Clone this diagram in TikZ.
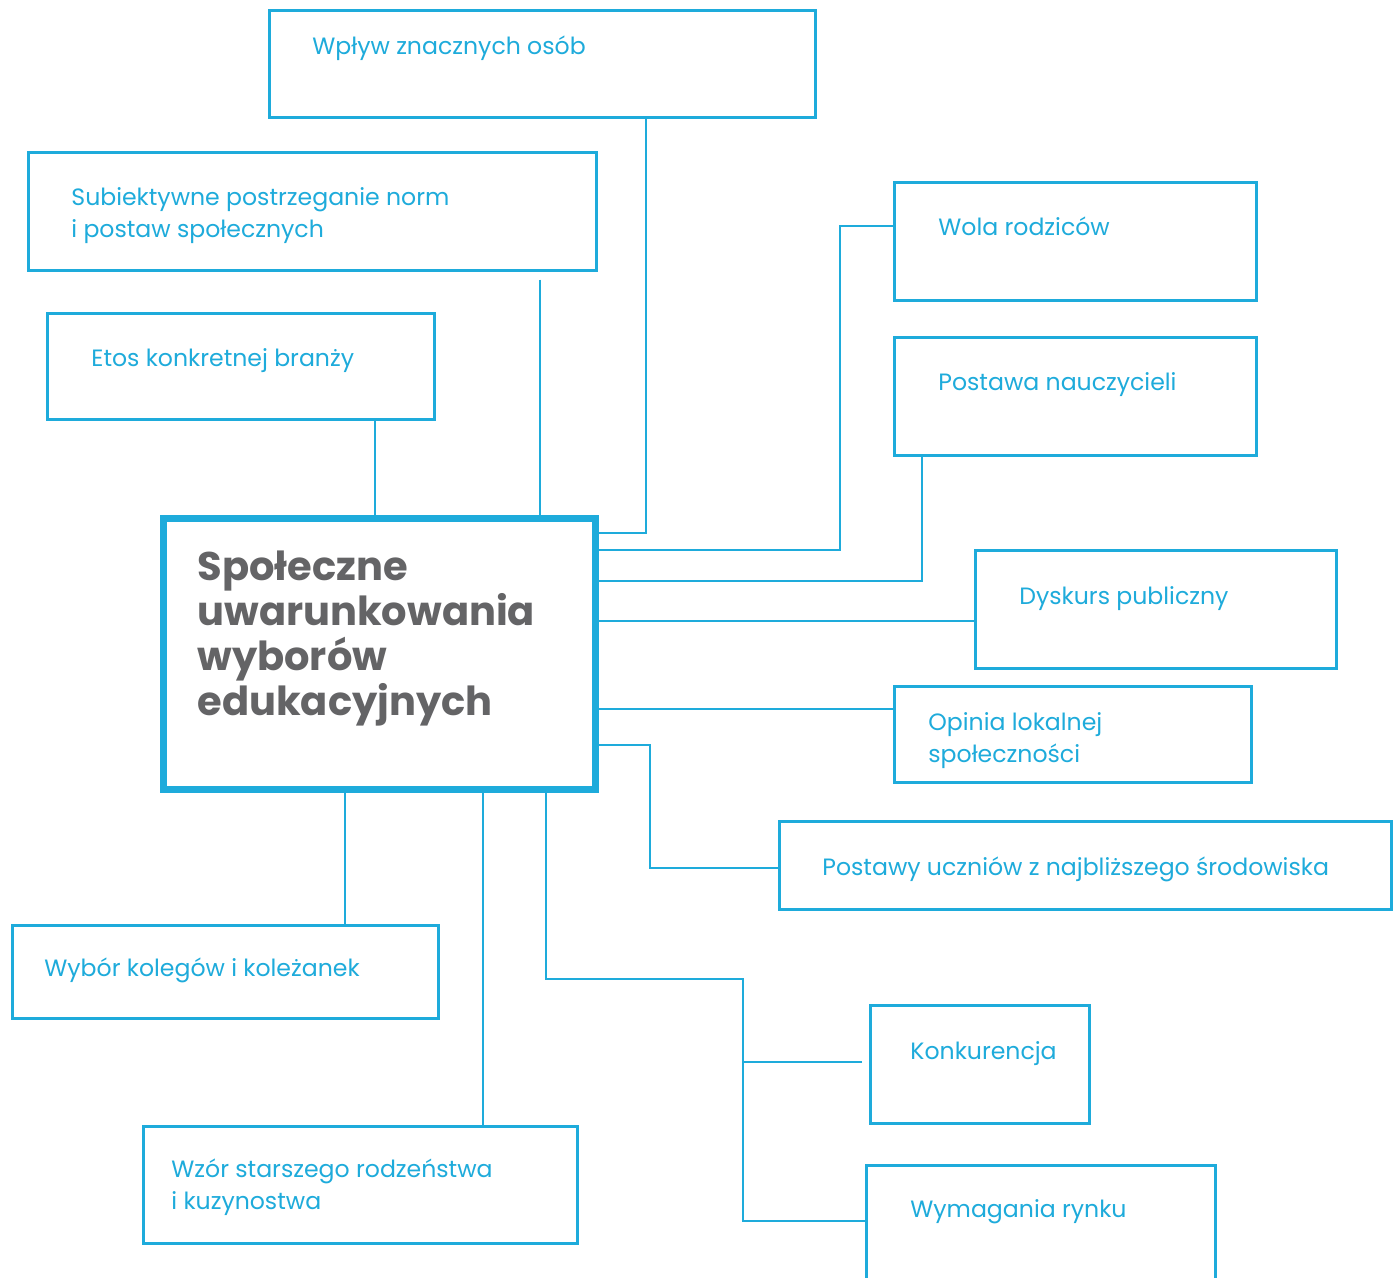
\documentclass[tikz,border=0pt]{standalone}
\usepackage{fontspec}
\setmainfont{Poppins}
\definecolor{lineblue}{RGB}{30,171,219}
\definecolor{titlegrey}{RGB}{100,100,102}
\begin{document}
\begin{tikzpicture}[x=0.5pt, y=-0.5pt,
    box/.style={draw=lineblue, line width=1.35pt, inner sep=0pt, anchor=north west},
    txt/.style={text=lineblue, font=\fontsize{11.8}{16}\selectfont, align=left,
        inner sep=0pt, anchor=base west},
    link/.style={draw=lineblue, line width=1.35pt}]
    % Frame
    \fill [white] (0, 0) rectangle (1398, 1278);
    \useasboundingbox (0, 0) rectangle (1398, 1278);
    % Boxes
    %% Top and left
    \node [box, minimum width=273pt, minimum height=53.5pt] (wplyw) at (268, 9) {};
    \node [box, minimum width=284pt, minimum height=59pt] (subj) at (27, 151) {};
    \node [box, minimum width=193.5pt, minimum height=53pt] (etos) at (46, 312) {};
    %% Right
    \node [box, minimum width=181pt, minimum height=59pt] (wola) at (893, 181) {};
    \node [box, minimum width=181pt, minimum height=59pt] (postawa) at (893, 336) {};
    \node [box, minimum width=180.5pt, minimum height=59pt] (dyskurs) at (974, 549) {};
    \node [box, minimum width=178.5pt, minimum height=48pt] (opinia) at (893, 685) {};
    \node [box, minimum width=306pt, minimum height=44pt] (uczn) at (778, 820) {};
    \node [box, minimum width=109.5pt, minimum height=59pt] (konk) at (869, 1004) {};
    \node [box, minimum width=174.5pt, minimum height=59pt] (rynek) at (865, 1164) {};
    %% Bottom left
    \node [box, minimum width=213pt, minimum height=46.5pt] (wybor) at (11, 924) {};
    \node [box, minimum width=217pt, minimum height=58.5pt] (wzor) at (142, 1125) {};
    % Labels (base is the last line)
    \node [txt] (wplyw-t) at ([xshift=22pt, yshift=-23pt]wplyw.north west) {Wpływ znacznych osób};
    \node [txt] (subj-t) at ([xshift=22pt, yshift=-43.5pt]subj.north west)
        {Subiektywne postrzeganie norm\\i postaw społecznych};
    \node [txt] (etos-t) at ([xshift=22.5pt, yshift=-27.5pt]etos.north west) {Etos konkretnej branży};
    \node [txt] (wola-t) at ([xshift=22.5pt, yshift=-27.5pt]wola.north west) {Wola rodziców};
    \node [txt] (postawa-t) at ([xshift=22.5pt, yshift=-27.5pt]postawa.north west) {Postawa nauczycieli};
    \node [txt] (dyskurs-t) at ([xshift=22.5pt, yshift=-27.5pt]dyskurs.north west) {Dyskurs publiczny};
    \node [txt] (opinia-t) at ([xshift=17.5pt, yshift=-38.5pt]opinia.north west)
        {Opinia lokalnej\\społeczności};
    \node [txt] (uczn-t) at ([xshift=22pt, yshift=-27.5pt]uczn.north west)
        {Postawy uczniów z najbliższego środowiska};
    \node [txt] (konk-t) at ([xshift=20.5pt, yshift=-27.5pt]konk.north west) {Konkurencja};
    \node [txt] (rynek-t) at ([xshift=22.5pt, yshift=-26.5pt]rynek.north west) {Wymagania rynku};
    \node [txt] (wybor-t) at ([xshift=16.5pt, yshift=-26pt]wybor.north west) {Wybór kolegów i koleżanek};
    \node [txt] (wzor-t) at ([xshift=14.5pt, yshift=-42pt]wzor.north west)
        {Wzór starszego rodzeństwa\\i kuzynostwa};
    % Connectors
    %% Above
    \draw [link] ([xshift=189pt]wplyw.south west) |- (592, 533);
    \draw [link] ([xshift=256.5pt, yshift=-4pt]subj.south west) -- (540, 515);
    \draw [link] ([xshift=164.5pt]etos.south west) -- (375, 515);
    %% Right
    \draw [link] ([yshift=-22.5pt]wola.north west) -- ++(-53, 0) |- (592, 550);
    \draw [link] ([xshift=14.5pt]postawa.south west) |- (592, 581);
    \draw [link] ([yshift=-36pt]dyskurs.north west) coordinate (d) -- (592, 621);
    \draw [link] ([yshift=-12pt]opinia.north west) coordinate (o) -- (592, 709);
    \draw [link] ([yshift=-24pt]uczn.north west) -- ++(-128, 0) |- (592, 745);
    %% Below
    \draw [link] (345, 786) -- ([xshift=167pt]wybor.north west);
    \draw [link] (483, 786) -- ([xshift=170.5pt]wzor.north west);
    \draw [link] (546, 786) -- ++(0, 193) -| ++(197, 242) -- ([yshift=-28.5pt]rynek.north west);
    \draw [link] ([xshift=-3.5pt, yshift=-29pt]konk.north west) -- ++(-119, 0);
    % Centre
    \node [box, draw=lineblue, line width=3.5pt, fill=white, minimum width=216pt,
        minimum height=135.5pt] (main) at (160, 515) {};
    \node [anchor=base west, inner sep=0pt, align=left, text=titlegrey,
        font=\fontsize{20}{22.5}\selectfont\bfseries] (main-t)
        at ([xshift=18.5pt, yshift=-100pt]main.north west)
        {Społeczne\\uwarunkowania\\wyborów\\edukacyjnych};
\end{tikzpicture}
\end{document}
